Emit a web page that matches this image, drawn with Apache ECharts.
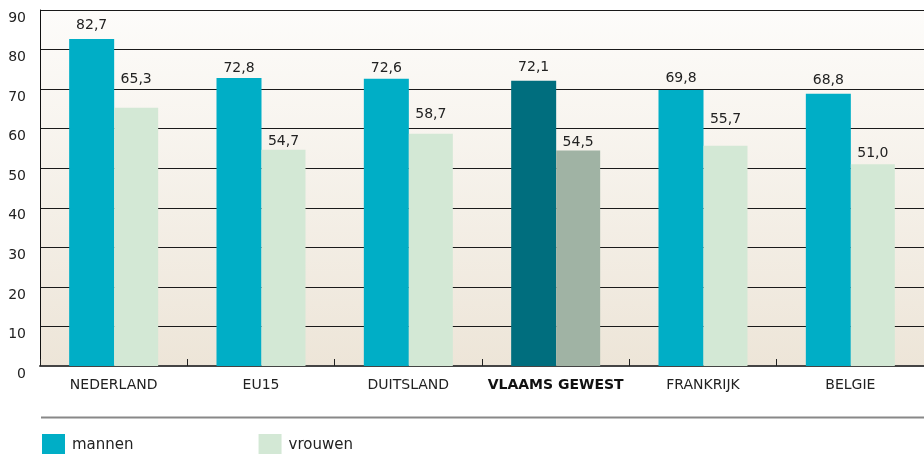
<!DOCTYPE html>
<html><head><meta charset="utf-8">
<script src="https://cdn.jsdelivr.net/npm/echarts@6/dist/echarts.min.js"></script>
<style>html,body{margin:0;padding:0;background:#fff}#c{width:924px;height:454px}</style>
</head><body><div id="c"></div>
<script>
var categories = ['NEDERLAND', 'EU15', 'DUITSLAND', 'VLAAMS GEWEST', 'FRANKRIJK', 'BELGIE'];
var mannen = [82.7, 72.8, 72.6, 72.1, 69.8, 68.8];
var vrouwen = [65.3, 54.7, 58.7, 54.5, 55.7, 51.0];
var seriesNames = ['mannen', 'vrouwen'];
var yTicks = [0, 10, 20, 30, 40, 50, 60, 70, 80, 90];
var highlight = 'VLAAMS GEWEST';

// styling: extra vertical lift (px) of each value label, as placed in the original
var liftM = [0, -4, -4, -1, -2, -1];
var liftV = [14, -6, 5, -6, 12, -3];

var FONT = 'DejaVu Sans';
var C_M = '#00AEC6', C_V = '#D3E8D5', C_MH = '#006E7E', C_VH = '#A0B3A4';

function mk(vals, base, hi, lift) {
  return vals.map(function (v, i) {
    return { value: v, itemStyle: { color: categories[i] === highlight ? hi : base },
      label: { offset: [0, -lift[i]] } };
  });
}
var lbl = {
  show: true, position: 'top', distance: 7, color: '#222',
  fontFamily: FONT, fontSize: 14,
  formatter: function (p) { return p.value.toFixed(1).replace('.', ','); }
};

var chart = echarts.init(document.getElementById('c'), null, { renderer: 'canvas' });
chart.setOption({
  animation: false,
  textStyle: { fontFamily: FONT },
  grid: {
    left: 40, top: 10, width: 888, height: 356, show: true, borderWidth: 0,
    backgroundColor: { type: 'linear', x: 0, y: 0, x2: 0, y2: 1,
      colorStops: [{ offset: 0, color: '#FDFCFA' }, { offset: 1, color: '#EDE5D8' }] }
  },
  legend: {
    left: 37, top: 429, itemWidth: 23, itemHeight: 23, itemGap: 125,
    icon: 'rect',
    textStyle: { fontFamily: FONT, fontSize: 15, color: '#222', padding: [4, 0, 0, 2] },
    data: seriesNames
  },
  xAxis: {
    type: 'category', data: categories,
    axisLine: { lineStyle: { color: '#444', width: 2 } },
    axisTick: { show: true, inside: true, length: 7, interval: 0, lineStyle: { color: '#222', width: 1 } },
    axisLabel: {
      interval: 0, margin: 12, fontFamily: FONT, fontSize: 14, color: '#222',
      formatter: function (v) { return v === highlight ? '{b|' + v + '}' : v; },
      rich: { b: { fontWeight: 'bold', fontFamily: FONT, fontSize: 14, color: '#111' } }
    }
  },
  yAxis: {
    type: 'value', min: yTicks[0], max: yTicks[yTicks.length - 1], interval: 10,
    axisLine: { show: true, lineStyle: { color: '#111', width: 1 } },
    axisTick: { show: false },
    axisLabel: { margin: 14, fontFamily: FONT, fontSize: 14, color: '#222', verticalAlign: 'top', padding: [1, 0, 0, 0] },
    splitLine: { lineStyle: { color: '#1a1a1a', width: 1 } }
  },
  series: [
    { name: seriesNames[0], type: 'bar', data: mk(mannen, C_M, C_MH, liftM), itemStyle: { color: C_M },
      barWidth: 45, barGap: '0%', label: lbl },
    { name: seriesNames[1], type: 'bar', data: mk(vrouwen, C_V, C_VH, liftV), itemStyle: { color: C_V },
      barWidth: 44, label: lbl }
  ],
  graphic: [
    { type: 'line', shape: { x1: 41, y1: 417.5, x2: 924, y2: 417.5 }, style: { stroke: '#888', lineWidth: 2 } }
  ]
});
</script></body></html>
